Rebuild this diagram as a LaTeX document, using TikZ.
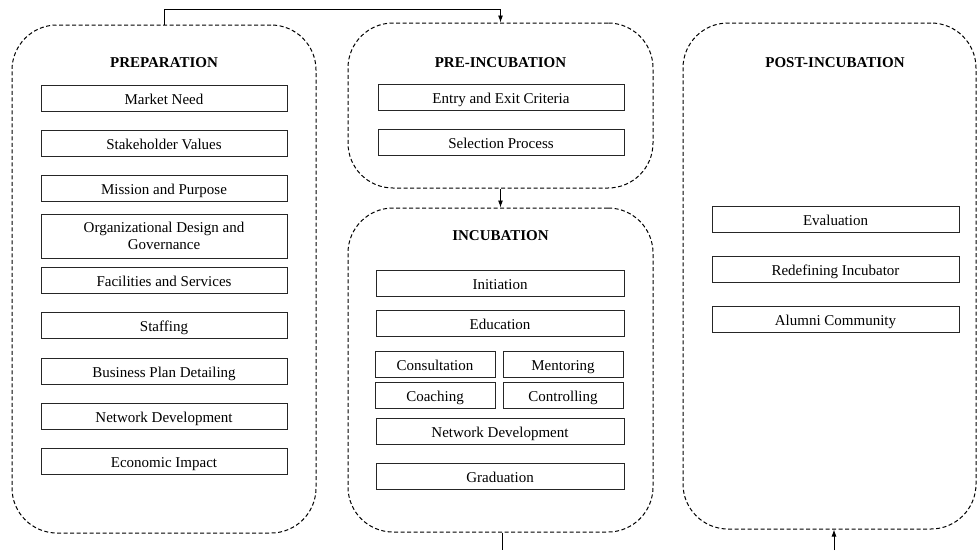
\documentclass[tikz,border=0pt]{standalone}
\usepackage{fontspec}
\setmainfont{Liberation Serif}
\usetikzlibrary{arrows.meta}

\begin{document}
\begin{tikzpicture}[x=1pt, y=-1pt,
  phase/.style={draw=black, line width=1pt, dash pattern=on 4pt off 2.5pt, rounded corners=45pt, inner sep=0pt},
  phasetitle/.style={font=\fontsize{15}{17}\selectfont\bfseries, inner sep=0pt},
  box/.style={draw=black!85, line width=0.9pt, minimum width=246pt, minimum height=26pt, inner sep=0pt, align=center, font=\fontsize{15}{17}\selectfont},
  stage/.style={box, text height=12pt, text depth=0pt},
  halfstage/.style={stage, minimum width=120pt},
  link/.style={line width=0.9pt, -{Latex[length=7pt,width=5pt]}}]
\useasboundingbox (0,0) rectangle (978,550);

% the four phases
\node[phase, minimum width=304pt, minimum height=508pt] (prep) at (164,279) {};
\node[phase, minimum width=305pt, minimum height=165pt] (preinc) at (500.5,105.5) {};
\node[phase, minimum width=305pt, minimum height=324pt] (inc) at (500.5,370) {};
\node[phase, minimum width=293pt, minimum height=506pt] (post) at (829.5,276) {};

\node[phasetitle] (preptitle) at (164,63) {PREPARATION};
\node[phasetitle] (preinctitle) at (500.5,63) {PRE-INCUBATION};
\node[phasetitle] (inctitle) at (500.5,236) {INCUBATION};
\node[phasetitle] (posttitle) at (835,63) {POST-INCUBATION};

% preparation
\node[stage] (need) at (164,98) {Market Need};
\node[stage] (values) at (164,143) {Stakeholder Values};
\node[stage] (mission) at (164,188) {Mission and Purpose};
\node[box, minimum height=44pt] (design) at (164,236) {Organizational Design and\\Governance};
\node[stage] (facilities) at (164,280) {Facilities and Services};
\node[stage] (staffing) at (164,325) {Staffing};
\node[stage] (plan) at (164,371) {Business Plan Detailing};
\node[stage] (network) at (164,416) {Network Development};
\node[stage] (impact) at (164,461.5) {Economic Impact};

% pre-incubation
\node[stage] (criteria) at (501,97) {Entry and Exit Criteria};
\node[stage] (selection) at (501,142) {Selection Process};

% incubation
\node[stage, minimum width=248pt] (initiation) at (500,283.5) {Initiation};
\node[stage, minimum width=248pt] (education) at (500,323.5) {Education};
\node[halfstage] (consultation) at (435,364.5) {Consultation};
\node[halfstage] (mentoring) at (563,364.5) {Mentoring};
\node[halfstage] (coaching) at (435,395.5) {Coaching};
\node[halfstage] (controlling) at (563,395.5) {Controlling};
\node[stage, minimum width=248pt] (incnetwork) at (500,431) {Network Development};
\node[stage, minimum width=248pt] (graduation) at (500,476) {Graduation};

% post-incubation
\node[stage, minimum width=247pt] (evaluation) at (835.5,219.5) {Evaluation};
\node[stage, minimum width=247pt] (redefining) at (835.5,269) {Redefining Incubator};
\node[stage, minimum width=247pt] (alumni) at (835.5,319.5) {Alumni Community};

% connectors
\coordinate (topbend) at (164,9);
\coordinate (incout) at (502,550);
\coordinate (postin) at (834,550);
\draw[link] (prep.north) -- (topbend) -| (preinc.north);
\draw[link] (preinc.south) -- (inc.north);
\draw[line width=0.9pt] (inc.south -| incout) -- (incout);
\draw[link] (postin) -- (post.south -| postin);

\end{tikzpicture}
\end{document}
